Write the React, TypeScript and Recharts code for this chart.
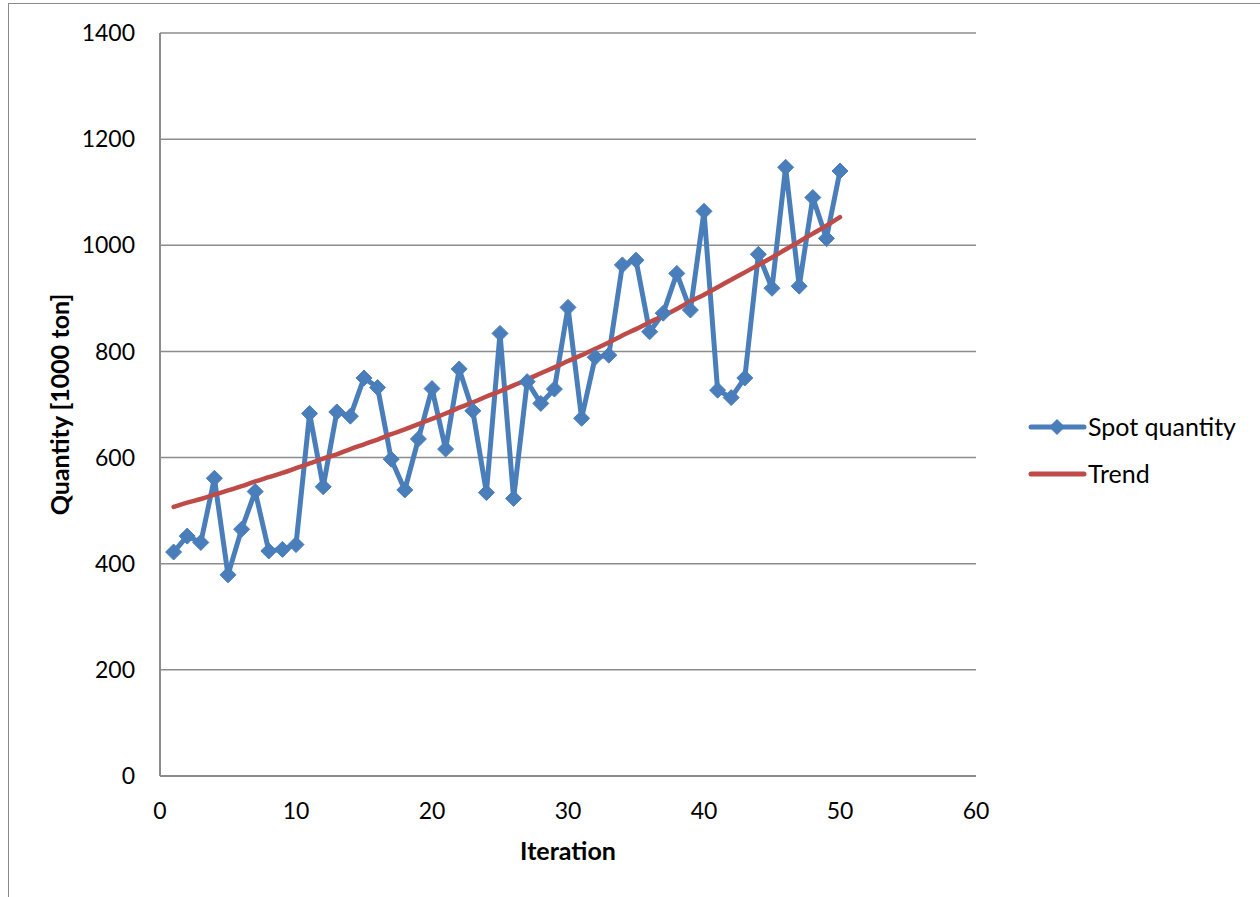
import React from 'react';
import { LineChart, Line, XAxis, YAxis, CartesianGrid, Legend } from 'recharts';

const iterations = [
  1, 2, 3, 4, 5, 6, 7, 8, 9, 10, 11, 12, 13, 14, 15, 16, 17, 18, 19, 20, 21, 22, 23, 24, 25,
  26, 27, 28, 29, 30, 31, 32, 33, 34, 35, 36, 37, 38, 39, 40, 41, 42, 43, 44, 45, 46, 47, 48, 49, 50,
];
const spotQuantity = [
  422, 452, 440, 561, 379, 465, 536, 424, 427, 436, 683, 545, 686, 678, 750, 732, 597, 539, 635, 730,
  616, 767, 688, 534, 834, 523, 743, 702, 729, 883, 674, 789, 793, 963, 972, 837, 872, 947, 878, 1064,
  727, 713, 750, 983, 919, 1147, 923, 1090, 1013, 1140,
];
const trend = [
  507, 515, 522, 530, 538, 546, 555, 563, 571, 580, 589, 598, 606, 616, 625, 634, 644, 653, 663, 673,
  683, 694, 704, 715, 725, 736, 747, 759, 770, 782, 793, 805, 817, 830, 842, 855, 867, 880, 894, 907,
  921, 935, 949, 963, 977, 992, 1007, 1022, 1037, 1053,
];
const xTicks = [0, 10, 20, 30, 40, 50, 60];
const yTicks = [0, 200, 400, 600, 800, 1000, 1200, 1400];

const data = iterations.map((it, i) => ({ iteration: it, spot: spotQuantity[i], trend: trend[i] }));

const BLUE = '#4A7EBB';
const RED = '#BE4B48';
const FONT = 'Lato, "Open Sans", sans-serif';

const Diamond = (props: any) => {
  const { cx, cy } = props;
  if (cx == null || cy == null) return null;
  const r = 8;
  return (
    <path
      d={`M${cx},${cy - r}L${cx + r},${cy}L${cx},${cy + r}L${cx - r},${cy}Z`}
      fill={BLUE}
      stroke={BLUE}
      strokeWidth={1}
    />
  );
};

const LegendContent = () => (
  <svg width={240} height={80} style={{ overflow: 'visible' }}>
    <g>
      <line x1={3} y1={17} x2={56} y2={17} stroke={BLUE} strokeWidth={5} strokeLinecap="round" />
      <path d="M29,9L37,17L29,25L21,17Z" fill={BLUE} />
      <text x={60} y={17} dy="0.355em" fontFamily={FONT} fontSize={25} fill="#000">Spot quantity</text>
    </g>
    <g>
      <line x1={3} y1={64} x2={56} y2={64} stroke={RED} strokeWidth={5} strokeLinecap="round" />
      <text x={60} y={64} dy="0.355em" fontFamily={FONT} fontSize={25} fill="#000">Trend</text>
    </g>
  </svg>
);

export default function App() {
  return (
    <div
      style={{
        position: 'absolute',
        left: 8,
        top: 3,
        width: 1260,
        height: 900,
        borderTop: '1px solid #8a8a8a',
        borderLeft: '1px solid #8a8a8a',
        background: '#fff',
      }}
    >
      <LineChart
        width={1251}
        height={890}
        data={data}
        margin={{ top: 29, right: 284, left: 0, bottom: 28 }}
        style={{ fontFamily: FONT }}
      >
        <CartesianGrid horizontal vertical={false} stroke="#8c8c8c" strokeWidth={1.5} />
        <XAxis
          dataKey="iteration"
          type="number"
          domain={[0, 60]}
          ticks={xTicks}
          interval={0}
          tickLine={false}
          tickSize={0}
          tickMargin={27}
          height={90}
          axisLine={{ stroke: '#8c8c8c', strokeWidth: 2 }}
          tick={{ fontSize: 23, fill: '#000', fontFamily: FONT }}
          label={{
            value: 'Iteration',
            position: 'insideBottom',
            offset: 6,
            style: { fontSize: 25, fontWeight: 700, fill: '#000', fontFamily: FONT },
          }}
        />
        <YAxis
          type="number"
          domain={[0, 1400]}
          ticks={yTicks}
          interval={0}
          tickLine={false}
          tickSize={0}
          tickMargin={25}
          width={151}
          axisLine={{ stroke: '#8c8c8c', strokeWidth: 2 }}
          tick={{ fontSize: 23, fill: '#000', fontFamily: FONT }}
          label={{
            value: 'Quantity [1000 ton]',
            angle: -90,
            position: 'insideLeft',
            offset: 51,
            style: { fontSize: 25, fontWeight: 700, fill: '#000', fontFamily: FONT, textAnchor: 'middle' },
          }}
        />
        <Legend
          layout="vertical"
          verticalAlign="middle"
          align="center"
          content={<LegendContent />}
          wrapperStyle={{ position: 'absolute', left: 1019, top: 406, width: 240 }}
        />
        <Line
          type="linear"
          dataKey="spot"
          name="Spot quantity"
          stroke={BLUE}
          strokeWidth={5}
          dot={<Diamond />}
          activeDot={false}
          isAnimationActive={false}
        />
        <Line
          type="monotone"
          dataKey="trend"
          name="Trend"
          stroke={RED}
          strokeWidth={4.5}
          strokeLinecap="round"
          dot={false}
          activeDot={false}
          isAnimationActive={false}
        />
      </LineChart>
    </div>
  );
}
